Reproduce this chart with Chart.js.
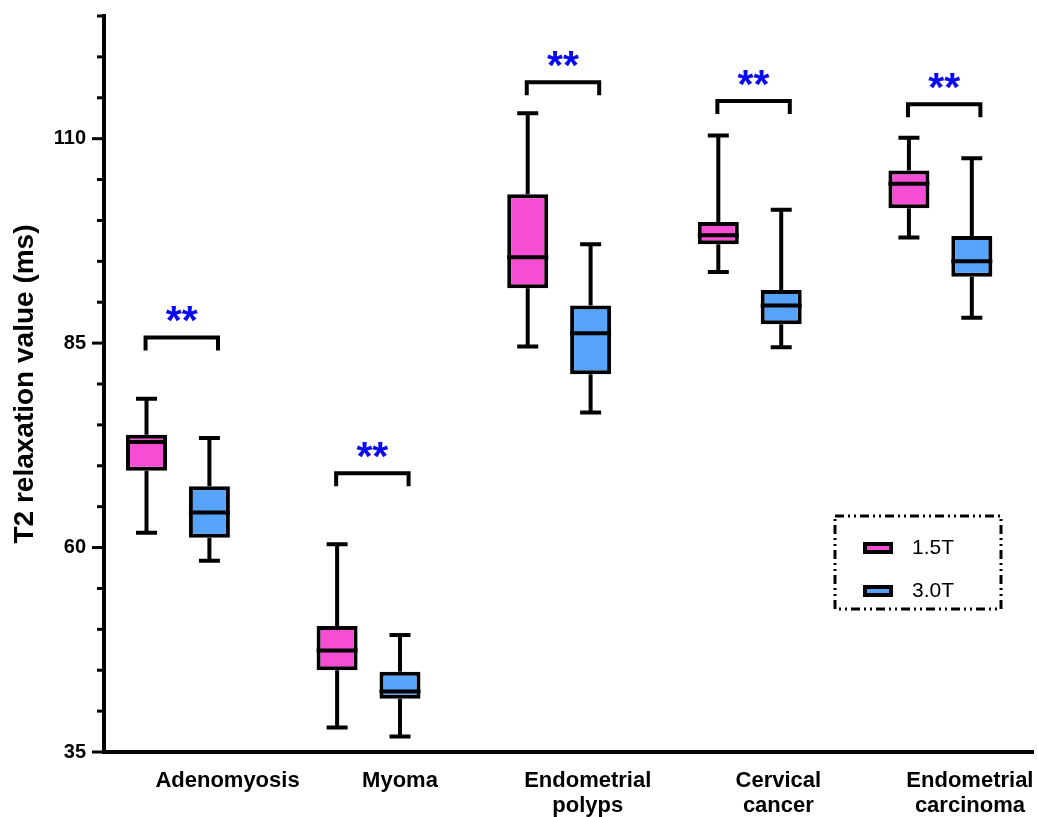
<!DOCTYPE html>
<html>
<head>
<meta charset="utf-8">
<script src="https://cdn.jsdelivr.net/npm/chart.js@4.4.0/dist/chart.umd.min.js"></script>
<style>
  html, body { margin: 0; padding: 0; background: #fff; }
</style>
</head>
<body>
<canvas id="chart" width="1037" height="817"></canvas>
<script>
const categories = [['Adenomyosis'], ['Myoma'], ['Endometrial', 'polyps'], ['Cervical', 'cancer'], ['Endometrial', 'carcinoma']];
const seriesNames = ['1.5T', '3.0T'];

// box statistics (ms): whisker low, Q1, median, Q3, whisker high
const min15 = [61.8, 38.0, 84.6, 93.7, 97.9];
const q1_15 = [69.4, 45.0, 91.7, 97.1, 101.5];
const med15 = [72.9, 47.4, 95.5, 98.2, 104.5];
const q3_15 = [73.8, 50.4, 103.2, 99.8, 106.1];
const max15 = [78.2, 60.4, 113.1, 110.4, 110.1];

const min30 = [58.4, 36.9, 76.5, 84.5, 88.1];
const q1_30 = [61.2, 41.5, 81.2, 87.3, 93.1];
const med30 = [64.3, 42.4, 86.2, 89.6, 95.0];
const q3_30 = [67.5, 44.8, 89.6, 91.5, 98.1];
const max30 = [73.4, 49.3, 97.1, 101.3, 107.6];

// significance brackets
const sigLevel = [85.7, 69.1, 116.9, 114.6, 114.2];
const sigMark = ['**', '**', '**', '**', '**'];

const yTickLabels = [35, 60, 85, 110];

// layout bits (not data)
const GROUP_OFF = 0.165;
const labelShift = [0.26, 0.165, 0.15, 0.15, 0.155];
const FONT = '"Liberation Sans", Arial, sans-serif';
const pink = '#F54ED4';
const blue = '#57A3F9';

const boxData = (q1, q3, off) => categories.map((c, i) => ({ x: i + off, y: [q1[i], q3[i]] }));

const boxExtras = {
  id: 'boxExtras',
  beforeDatasetsDraw(chart) {
    const { ctx, scales: { y } } = chart;
    ctx.save();
    ctx.strokeStyle = '#000';
    ctx.lineWidth = 4;
    chart.data.datasets.forEach((ds, di) => {
      chart.getDatasetMeta(di).data.forEach((bar, i) => {
        const x = bar.x;
        const yLo = y.getPixelForValue(ds.lo[i]);
        const yHi = y.getPixelForValue(ds.hi[i]);
        const yQ1 = y.getPixelForValue(ds.data[i].y[0]);
        const yQ3 = y.getPixelForValue(ds.data[i].y[1]);
        ctx.beginPath();
        ctx.moveTo(x, yHi); ctx.lineTo(x, yQ3);
        ctx.moveTo(x, yQ1); ctx.lineTo(x, yLo);
        ctx.moveTo(x - 10.5, yHi); ctx.lineTo(x + 10.5, yHi);
        ctx.moveTo(x - 10.5, yLo); ctx.lineTo(x + 10.5, yLo);
        ctx.stroke();
      });
    });
    ctx.restore();
  },
  afterDatasetsDraw(chart) {
    const { ctx, scales: { x, y } } = chart;
    ctx.save();
    ctx.strokeStyle = '#000';
    ctx.lineWidth = 4;
    // medians
    chart.data.datasets.forEach((ds, di) => {
      chart.getDatasetMeta(di).data.forEach((bar, i) => {
        const ym = y.getPixelForValue(ds.med[i]);
        ctx.beginPath();
        ctx.moveTo(bar.x - bar.width / 2, ym);
        ctx.lineTo(bar.x + bar.width / 2, ym);
        ctx.stroke();
      });
    });
    // brackets + stars
    ctx.lineJoin = 'miter';
    ctx.font = 'bold 41px ' + FONT;
    ctx.fillStyle = '#0A0AF0';
    ctx.textAlign = 'center';
    ctx.textBaseline = 'alphabetic';
    categories.forEach((c, i) => {
      const xl = x.getPixelForValue(i - 0.17);
      const xr = x.getPixelForValue(i + 0.21);
      const yb = y.getPixelForValue(sigLevel[i]);
      ctx.beginPath();
      ctx.moveTo(xl, yb + 13);
      ctx.lineTo(xl, yb);
      ctx.lineTo(xr, yb);
      ctx.lineTo(xr, yb + 13);
      ctx.stroke();
      ctx.fillText(sigMark[i], (xl + xr) / 2, yb - 3);
    });
    ctx.restore();
  },
  afterDraw(chart) {
    const { ctx, scales: { y }, chartArea } = chart;
    ctx.save();
    // y tick marks, long on labelled ticks
    ctx.strokeStyle = '#000';
    ctx.lineWidth = 3;
    y.ticks.forEach(t => {
      const py = y.getPixelForValue(t.value);
      const len = yTickLabels.includes(t.value) ? 12 : 7;
      ctx.beginPath();
      ctx.moveTo(chartArea.left - len, py);
      ctx.lineTo(chartArea.left, py);
      ctx.stroke();
    });
    // legend with dash-dot-dot frame
    ctx.lineWidth = 3;
    ctx.setLineDash([9, 4, 2, 4, 2, 4]);
    ctx.strokeRect(835, 516, 166, 93);
    ctx.setLineDash([]);
    ctx.font = '21px ' + FONT;
    ctx.textAlign = 'left';
    ctx.textBaseline = 'middle';
    ctx.lineWidth = 4;
    chart.data.datasets.forEach((ds, di) => {
      const cy = 548 + di * 43;
      ctx.fillStyle = ds.backgroundColor;
      ctx.fillRect(865, cy - 4, 26, 8);
      ctx.strokeRect(865, cy - 4, 26, 8);
      ctx.fillStyle = '#000';
      ctx.fillText(ds.label, 912, cy);
    });
    ctx.restore();
  }
};

new Chart(document.getElementById('chart'), {
  type: 'bar',
  data: {
    datasets: [
      {
        label: seriesNames[0],
        data: boxData(q1_15, q3_15, -GROUP_OFF),
        lo: min15, hi: max15, med: med15,
        backgroundColor: pink,
        borderColor: '#000',
        borderWidth: 4,
        borderSkipped: false,
        grouped: false,
        maxBarThickness: 41
      },
      {
        label: seriesNames[1],
        data: boxData(q1_30, q3_30, GROUP_OFF),
        lo: min30, hi: max30, med: med30,
        backgroundColor: blue,
        borderColor: '#000',
        borderWidth: 4,
        borderSkipped: false,
        grouped: false,
        maxBarThickness: 41
      }
    ]
  },
  options: {
    responsive: false,
    animation: false,
    layout: { padding: { top: 16, right: 4, bottom: 0, left: 0 } },
    plugins: {
      legend: { display: false },
      tooltip: { enabled: false }
    },
    scales: {
      x: {
        type: 'linear',
        min: -0.388,
        max: 4.486,
        offset: false,
        grid: { display: false, drawTicks: false },
        border: { display: true, color: '#000', width: 4 },
        afterBuildTicks: s => { s.ticks = categories.map((c, i) => ({ value: i + labelShift[i] })); },
        ticks: {
          autoSkip: false,
          maxRotation: 0,
          minRotation: 0,
          padding: 16,
          color: '#000',
          font: { family: FONT, size: 22, weight: 'bold', lineHeight: 1.15 },
          callback: (v, i) => categories[i]
        },
        afterFit: s => { s.height = 65; s.paddingLeft = 0; s.paddingRight = 0; }
      },
      y: {
        min: 35,
        max: 125,
        grid: { display: false, drawTicks: false },
        border: { display: true, color: '#000', width: 4 },
        ticks: {
          stepSize: 5,
          autoSkip: false,
          padding: 18,
          color: '#000',
          font: { family: FONT, size: 20, weight: 'bold' },
          callback: v => yTickLabels.includes(v) ? String(v) : ''
        },
        title: {
          display: true,
          text: 'T2 relaxation value (ms)',
          color: '#000',
          font: { family: FONT, size: 28, weight: 'bold', lineHeight: 1.2 },
          padding: { top: 8, bottom: 0 }
        },
        afterFit: s => { s.width = 104; s.paddingTop = 0; s.paddingBottom = 0; }
      }
    }
  },
  plugins: [boxExtras]
});
</script>
</body>
</html>
